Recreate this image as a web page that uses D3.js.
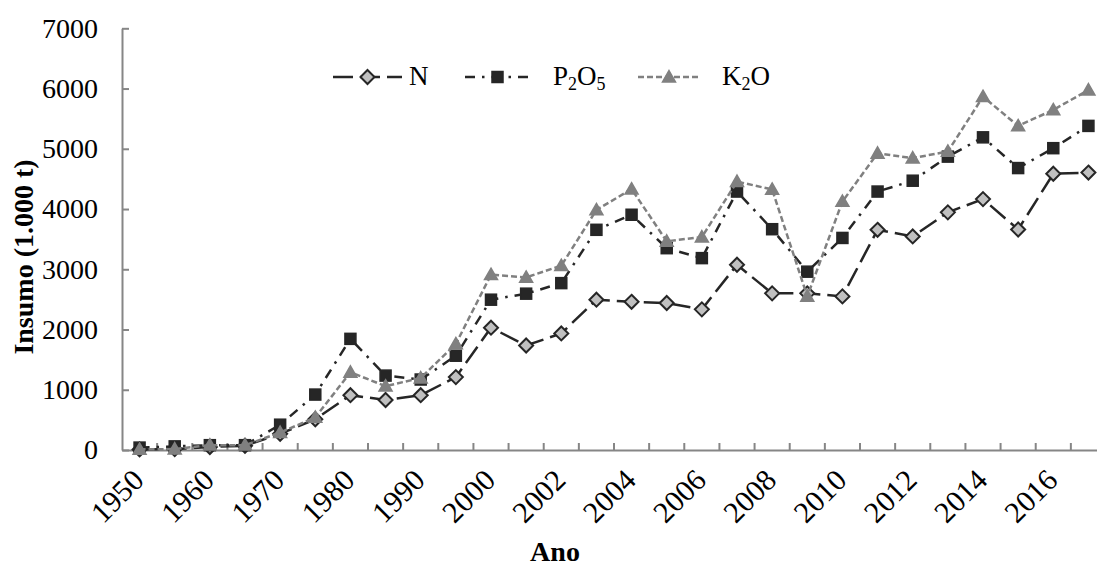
<!DOCTYPE html>
<html>
<head>
<meta charset="utf-8">
<script src="https://cdn.jsdelivr.net/npm/d3@7"></script>
<style>
  html, body { margin: 0; padding: 0; background: #fff; }
  svg { display: block; font-family: "Liberation Serif", "Times New Roman", serif; }
</style>
</head>
<body>
<svg id="chart" width="1097" height="566"></svg>
<script>
// Anos (5 em 5 até 1995, depois anuais)
const years = ["1950","1955","1960","1965","1970","1975","1980","1985","1990","1995",
  "2000","2001","2002","2003","2004","2005","2006","2007","2008","2009",
  "2010","2011","2012","2013","2014","2015","2016","2017"];
// Rótulos exibidos no eixo X (um a cada dois)
const xTickLabels = ["1950","1960","1970","1980","1990","2000","2002","2004","2006","2008","2010","2012","2014","2016"];
const yTicks = [0, 1000, 2000, 3000, 4000, 5000, 6000, 7000];

// Consumo de fertilizantes (1.000 t)
const nValues = [10, 15, 50, 70, 270, 510, 910, 830, 910, 1210,
  2030, 1735, 1935, 2495, 2460, 2440, 2335, 3075, 2600, 2600,
  2550, 3655, 3545, 3945, 4165, 3660, 4585, 4605];
const pValues = [40, 60, 80, 80, 420, 920, 1845, 1235, 1170, 1565,
  2495, 2595, 2770, 3655, 3905, 3350, 3185, 4290, 3665, 2960,
  3520, 4290, 4470, 4870, 5190, 4680, 5010, 5380];
const kValues = [10, 15, 80, 80, 290, 540, 1290, 1060, 1195, 1760,
  2910, 2865, 3060, 3985, 4330, 3465, 3535, 4455, 4325, 2550,
  4125, 4925, 4845, 4955, 5865, 5380, 5645, 5975];

const series = [
  { key: "N",    values: nValues, color: "#262626", dash: "20,7",       marker: "diamond",  fill: "#c0c0c0" },
  { key: "P2O5", values: pValues, color: "#262626", dash: "10,7,2.5,7", marker: "square",   fill: "#262626" },
  { key: "K2O",  values: kValues, color: "#808080", dash: "6,3",        marker: "triangle", fill: "#808080" }
];

const svg = d3.select("#chart");
svg.append("rect").attr("width", 1097).attr("height", 566).attr("fill", "#fff");

const plotLeft = 122, plotRight = 1106, plotTop = 28.3, plotBottom = 450;

const x = d3.scaleBand().domain(years).range([plotLeft, plotRight]).padding(0);
const y = d3.scaleLinear().domain([0, 7000]).range([plotBottom, plotTop]);
const cx = d => x(d) + x.bandwidth() / 2;

const axisColor = "#868686";

// Eixo Y
const yAxis = svg.append("g")
  .attr("transform", `translate(${plotLeft},0)`)
  .call(d3.axisLeft(y).tickValues(yTicks).tickFormat(d3.format("d"))
    .tickSizeInner(-7).tickSizeOuter(0).tickPadding(24));
yAxis.select(".domain").attr("stroke", axisColor).attr("stroke-width", 2);
yAxis.selectAll(".tick line").attr("stroke", axisColor).attr("stroke-width", 2);
yAxis.selectAll(".tick text").attr("font-size", 28).attr("fill", "#000")
  .attr("font-family", "Liberation Serif");

// Eixo X: linha, marcas entre categorias e rótulos inclinados
const xAxis = svg.append("g")
  .attr("transform", `translate(0,${plotBottom})`)
  .call(d3.axisBottom(x).tickValues([]).tickSizeOuter(0));
xAxis.select(".domain").attr("stroke", axisColor).attr("stroke-width", 2);

svg.append("g").selectAll("line")
  .data(years.slice(1))
  .join("line")
  .attr("x1", d => x(d)).attr("x2", d => x(d))
  .attr("y1", plotBottom).attr("y2", plotBottom - 7)
  .attr("stroke", axisColor).attr("stroke-width", 2);

svg.append("g").selectAll("text")
  .data(xTickLabels)
  .join("text")
  .attr("transform", d => `translate(${cx(d) + 6},${482}) rotate(-45)`)
  .attr("text-anchor", "end")
  .attr("font-size", 30)
  .attr("fill", "#000")
  .text(d => d);

// Títulos dos eixos
svg.append("text")
  .attr("transform", "translate(33,257) rotate(-90)")
  .attr("text-anchor", "middle")
  .attr("font-size", 28)
  .attr("font-weight", "bold")
  .text("Insumo (1.000 t)");

svg.append("text")
  .attr("x", 555).attr("y", 561)
  .attr("text-anchor", "middle")
  .attr("font-size", 28)
  .attr("font-weight", "bold")
  .text("Ano");

// Marcadores
function drawMarker(g, type, px, py, fill, stroke) {
  if (type === "diamond") {
    const r = 7;
    g.append("path")
      .attr("d", `M${px},${py - r}L${px + r},${py}L${px},${py + r}L${px - r},${py}Z`)
      .attr("fill", fill).attr("stroke", stroke).attr("stroke-width", 2);
  } else if (type === "square") {
    const s = 11;
    g.append("rect")
      .attr("x", px - s / 2).attr("y", py - s / 2).attr("width", s).attr("height", s)
      .attr("fill", fill).attr("stroke", stroke).attr("stroke-width", 1.5);
  } else {
    const s = 6.5;
    g.append("path")
      .attr("d", `M${px},${py - s}L${px + s},${py + s * 0.75}L${px - s},${py + s * 0.75}Z`)
      .attr("fill", fill).attr("stroke", stroke).attr("stroke-width", 1.5);
  }
}

const line = d3.line().x(d => cx(d.year)).y(d => y(d.value));

series.forEach(s => {
  const pts = years.map((yr, i) => ({ year: yr, value: s.values[i] }));
  const g = svg.append("g");
  g.append("path")
    .datum(pts)
    .attr("d", line)
    .attr("fill", "none")
    .attr("stroke", s.color)
    .attr("stroke-width", 2.5)
    .attr("stroke-dasharray", s.dash);
  pts.forEach(p => drawMarker(g, s.marker, cx(p.year), y(p.value), s.fill, s.color));
});

// Legenda
const legendY = 77;
const legendItems = [
  { s: series[0], x0: 333, x1: 402, tx: 409 },
  { s: series[1], x0: 465, x1: 530, tx: 553 },
  { s: series[2], x0: 638, x1: 700, tx: 722 }
];
legendItems.forEach(it => {
  const g = svg.append("g");
  g.append("line")
    .attr("x1", it.x0).attr("x2", it.x1).attr("y1", legendY).attr("y2", legendY)
    .attr("stroke", it.s.color).attr("stroke-width", 2.5)
    .attr("stroke-dasharray", it.s.dash);
  drawMarker(g, it.s.marker, (it.x0 + it.x1) / 2, legendY, it.s.fill, it.s.color);
  const t = g.append("text")
    .attr("x", it.tx).attr("y", legendY + 8)
    .attr("font-size", 27).attr("fill", "#000");
  if (it.s.key === "N") {
    t.text("N");
  } else if (it.s.key === "P2O5") {
    t.append("tspan").text("P");
    t.append("tspan").attr("font-size", 18).attr("dy", 5).text("2");
    t.append("tspan").attr("dy", -5).text("O");
    t.append("tspan").attr("font-size", 18).attr("dy", 5).text("5");
  } else {
    t.append("tspan").text("K");
    t.append("tspan").attr("font-size", 18).attr("dy", 5).text("2");
    t.append("tspan").attr("dy", -5).text("O");
  }
});
</script>
</body>
</html>
